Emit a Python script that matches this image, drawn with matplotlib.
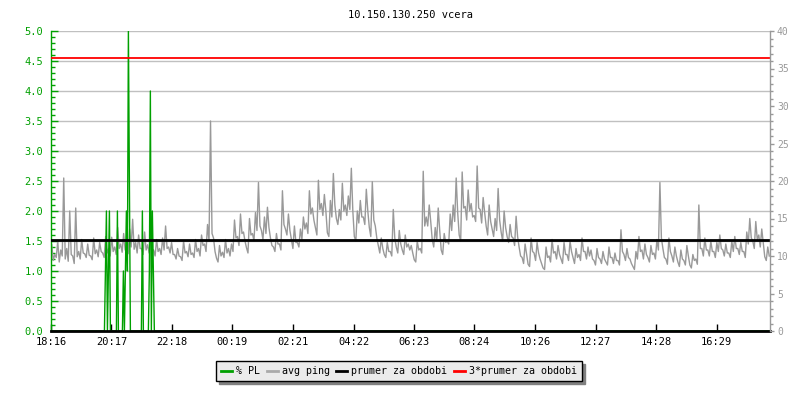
import matplotlib
matplotlib.use("Agg")
from matplotlib import pyplot as plt
from matplotlib.lines import Line2D
import matplotlib.transforms as mtransforms
import numpy as np

plt.rcParams["font.family"] = ["DejaVu Sans Mono", "DejaVu Sans"]

#Axis labels along the bottom (clock time, 24 hours from 18:16)
tick_labels = ["18:16", "20:17", "22:18", "00:19", "02:21", "04:22",
               "06:23", "08:24", "10:26", "12:27", "14:28", "16:29"]

#avg ping in ms, every 6 minutes: upper side of the noisy band (incl. spikes)
ping_hi = [
    11.5, 10.2, 12.0, 10.8, 20.4, 11.0, 16.0, 10.0, 16.4, 10.6, 12.2, 10.3, 11.6, 10.0, 12.4, 10.8, 11.8, 10.4, 12.6, 11.0,
    12.5, 11.2, 13.8, 11.6, 13.0, 11.4, 13.6, 14.9, 11.8, 12.8, 11.0, 13.2, 11.5, 12.6, 10.8, 12.2, 11.0, 12.4, 14.0, 11.2,
    11.8, 10.2, 11.0, 9.9, 12.0, 10.6, 11.6, 10.4, 12.2, 11.0, 12.8, 11.6, 14.2, 28.0, 12.4, 9.7, 11.4, 10.5, 12.2, 11.0,
    11.6, 14.8, 12.6, 15.6, 13.2, 11.1, 15.0, 13.0, 15.8, 19.8, 13.4, 15.2, 16.5, 12.4, 11.2, 13.0, 11.6, 18.7, 13.6, 15.6,
    12.2, 14.0, 11.8, 13.6, 15.2, 14.4, 18.7, 16.4, 13.8, 20.1, 17.0, 18.2, 13.1, 17.4, 21.0, 15.0, 16.2, 19.7, 16.8, 18.0,
    21.7, 12.6, 16.0, 17.4, 15.2, 18.9, 13.8, 19.9, 14.0, 11.4, 12.4, 10.2, 11.8, 10.6, 16.2, 11.2, 13.4, 10.8, 12.8, 11.6,
    11.4, 9.5, 12.0, 11.0, 21.3, 15.2, 16.8, 12.2, 13.8, 16.4, 10.8, 13.0, 12.0, 15.6, 16.8, 20.4, 12.8, 21.2, 16.6, 18.8,
    17.0, 15.4, 22.0, 16.2, 17.8, 14.0, 16.8, 13.6, 15.0, 19.0, 13.2, 16.0, 12.6, 14.2, 12.4, 15.3, 11.2, 9.8, 11.6, 8.9,
    12.4, 10.4, 11.8, 9.6, 8.4, 11.2, 10.0, 12.2, 10.6, 11.4, 9.6, 11.8, 10.2, 12.0, 9.8, 11.0, 10.2, 12.4, 10.6, 11.2,
    10.8, 9.4, 11.0, 9.6, 10.6, 9.2, 11.2, 9.8, 10.4, 9.4, 13.5, 10.2, 11.0, 9.6, 8.6, 10.6, 12.6, 10.8, 11.6, 9.8,
    11.4, 10.4, 12.2, 19.8, 11.0, 9.6, 12.4, 10.0, 11.2, 9.2, 10.8, 9.4, 11.4, 8.8, 10.2, 9.6, 16.8, 11.0, 12.4, 10.8,
    12.0, 10.6, 11.8, 12.8, 10.8, 11.6, 10.4, 12.0, 12.6, 11.0, 11.8, 10.6, 13.2, 15.0, 12.0, 14.6, 12.8, 13.6, 9.9, 11.2,
]

#avg ping in ms, every 6 minutes: lower side of the band
ping_lo = [
    9.4, 9.8, 9.2, 10.0, 9.6, 9.3, 10.2, 9.0, 9.9, 9.6, 10.4, 9.8, 10.1, 9.5, 10.3, 9.9, 10.6, 9.8, 10.4, 10.0,
    10.6, 10.2, 11.0, 10.5, 10.8, 10.3, 11.2, 10.9, 10.4, 11.0, 10.2, 10.8, 10.4, 10.9, 10.0, 10.6, 10.2, 10.8, 11.0, 10.4,
    10.2, 9.6, 10.0, 9.4, 10.4, 9.9, 10.2, 9.8, 10.6, 10.0, 11.4, 10.6, 12.0, 13.0, 10.6, 9.2, 10.0, 9.8, 10.4, 10.0,
    10.6, 12.4, 11.4, 13.0, 12.0, 10.4, 12.8, 12.0, 13.4, 14.0, 12.2, 13.0, 13.8, 11.4, 10.6, 11.6, 10.8, 14.2, 12.8, 13.4,
    11.0, 11.8, 11.2, 12.2, 13.6, 13.0, 15.6, 14.8, 12.8, 16.2, 15.4, 16.0, 12.6, 15.2, 16.8, 14.2, 14.8, 16.0, 15.4, 16.2,
    16.0, 12.0, 14.4, 15.2, 14.2, 16.0, 12.6, 14.8, 12.4, 10.4, 11.0, 9.8, 10.6, 10.0, 12.4, 10.4, 11.6, 10.2, 11.2, 10.8,
    10.4, 9.2, 10.8, 10.4, 14.0, 14.0, 14.6, 11.2, 12.0, 13.4, 10.2, 11.8, 11.6, 13.4, 14.6, 15.8, 12.0, 16.4, 14.8, 16.0,
    15.2, 14.6, 16.4, 14.4, 15.8, 12.8, 14.6, 12.6, 13.4, 14.8, 12.0, 13.8, 11.8, 12.6, 11.4, 12.6, 10.0, 9.0, 10.2, 8.6,
    10.6, 9.4, 10.4, 9.0, 8.2, 9.8, 9.2, 10.4, 9.6, 10.2, 9.0, 10.2, 9.4, 10.6, 9.0, 9.8, 9.4, 10.6, 9.6, 10.0,
    9.6, 8.8, 9.8, 9.0, 9.6, 8.8, 9.8, 9.0, 9.4, 8.8, 10.6, 9.4, 9.8, 9.0, 8.2, 9.6, 10.6, 9.6, 10.2, 9.2,
    10.2, 9.6, 10.8, 12.4, 9.8, 8.9, 10.6, 9.2, 10.0, 8.6, 9.6, 8.8, 10.0, 8.4, 9.4, 8.9, 11.0, 10.0, 10.8, 10.0,
    10.6, 9.8, 10.6, 11.0, 10.0, 10.4, 9.8, 10.6, 11.0, 10.2, 10.6, 9.8, 11.6, 12.4, 11.0, 12.2, 11.2, 11.8, 9.4, 10.0,
]

#% packet loss, sampled every 2 minutes, zero except these samples
pl_index = [54, 55, 57, 58, 66, 72, 73, 74, 75, 76, 77, 78, 91, 98, 99, 100, 101, 102]
pl_value = [1, 2, 1, 2, 2, 1, 0, 1, 2, 1, 5, 2.5, 2, 1, 4, 0, 2, 1]

#average over the period (ms)
prumer = 12.13


def minutes_from_start(label, start="18:16"):
    h, m = map(int, label.split(":"))
    h0, m0 = map(int, start.split(":"))
    return ((h * 60 + m) - (h0 * 60 + m0)) % 1440


#interleave upper and lower readings, 3 minutes apart
n = len(ping_hi)
ping_t = np.empty(2 * n)
ping_t[0::2] = np.arange(n) * 6 + 1.5
ping_t[1::2] = np.arange(n) * 6 + 4.5
ping = np.empty(2 * n)
ping[0::2] = ping_hi
ping[1::2] = ping_lo

pl = np.zeros(720)
pl[pl_index] = pl_value
pl_t = np.arange(720) * 2 + 1

green = "#00a000"
grey = "#999999"

fig = plt.figure(figsize=(8, 4), dpi=100)
ax = fig.add_axes([51 / 800, 69 / 400, 719 / 800, 300 / 400])
ax2 = ax.twinx()

ax2.set_ylim(0, 40)

#ping belongs to the right (ms) scale, but draw it in ax so the stacking order is right
ax.plot(ping_t, ping, color=grey, lw=1, transform=ax2.transData, zorder=2)
ax.plot(pl_t, pl, color=green, lw=1, zorder=2.2)
line_tr = mtransforms.blended_transform_factory(ax.transAxes, ax2.transData)
ax.plot([0, 1], [prumer, prumer], color="black", lw=2, transform=line_tr, zorder=4)
ax.plot([0, 1], [3 * prumer, 3 * prumer], color="red", lw=1.3, transform=line_tr, zorder=4)

ax.set_xlim(0, 1440)
ax.set_ylim(0, 5)

#Grid only on the left scale
ax.set_axisbelow(True)
ax.yaxis.grid(True, color="#c0c0c0", lw=1)

#Spines
ax.spines["top"].set_visible(False)
ax.spines["right"].set_visible(False)
ax.spines["left"].set_color(green)
ax.spines["left"].set_linewidth(1)
ax.spines["bottom"].set_color("black")
ax.spines["bottom"].set_linewidth(2)
for s in ["left", "top", "bottom"]:
    ax2.spines[s].set_visible(False)
ax2.spines["right"].set_color(grey)
ax2.spines["right"].set_linewidth(1)

#Ticks
ax.set_xticks([minutes_from_start(l) for l in tick_labels])
ax.set_xticklabels(tick_labels)
ax.tick_params(axis="x", direction="in", length=5, width=1, color="black",
               labelsize=7.5, pad=4)
ax.set_yticks(np.arange(0, 5.01, 0.5))
ax.set_yticklabels(["%.1f" % v for v in np.arange(0, 5.01, 0.5)])
ax.set_yticks(np.arange(0, 5.01, 0.1), minor=True)
ax.tick_params(axis="y", which="major", direction="in", length=5, width=1,
               color=green, labelcolor=green, labelsize=7.5, pad=5.5)
ax.tick_params(axis="y", which="minor", direction="in", length=3, width=1, color=green)

ax2.set_yticks(np.arange(0, 41, 5))
ax2.set_yticks(np.arange(0, 41, 1), minor=True)
ax2.tick_params(axis="y", which="major", direction="out", length=3, width=1,
                color=grey, labelcolor=grey, labelsize=7, pad=2)
ax2.tick_params(axis="y", which="minor", direction="out", length=2, width=1, color=grey)

ax.set_title("10.150.130.250 vcera", fontsize=7.5, pad=9)

#Legend below the plot
handles = [Line2D([], [], color=green, lw=2),
           Line2D([], [], color="#aaaaaa", lw=2),
           Line2D([], [], color="black", lw=2),
           Line2D([], [], color="red", lw=2)]
names = ["% PL", "avg ping", "prumer za obdobi", "3*prumer za obdobi"]
leg = fig.legend(handles, names, loc="center", bbox_to_anchor=(399 / 800, 1 - 371 / 400),
                 ncol=4, fontsize=7.2, handlelength=1.1, handletextpad=0.4,
                 columnspacing=0.65, borderpad=0.5, fancybox=False,
                 shadow={"color": "#808080", "alpha": 1}, framealpha=1)
leg.get_frame().set_facecolor("#ebebeb")
leg.get_frame().set_edgecolor("black")
leg.get_frame().set_linewidth(1)

fig.savefig("out.png", dpi=100)
